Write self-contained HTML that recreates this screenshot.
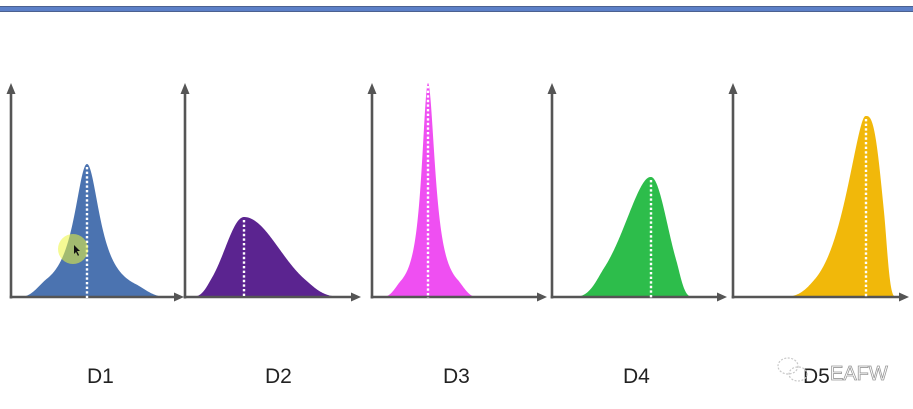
<!DOCTYPE html>
<html><head><meta charset="utf-8">
<style>
html,body{margin:0;padding:0;background:#fff;}
body{width:913px;height:409px;overflow:hidden;position:relative;}
svg{position:absolute;left:0;top:0;}
</style></head>
<body>
<svg id="s" width="913" height="409" viewBox="0 0 913 409" xmlns="http://www.w3.org/2000/svg">
  <rect x="0" y="6" width="913" height="6" fill="#4c6190"/>
  <rect x="0" y="7" width="913" height="4" fill="#5c80c8"/>
  <g id="fills"></g>
  <g id="axes" fill="#555" stroke="#555"></g>
  <g id="dots" stroke="#fff" stroke-width="2.4" stroke-dasharray="2.4 2.2"></g>
  <circle cx="73" cy="249" r="15" fill="rgb(236,245,60)" fill-opacity="0.55"/>
  <polygon points="74,245 74,254 76,252 78,256 79,255 77,251 80,251" fill="#111"/>
  <g font-family="Liberation Sans, sans-serif" font-size="21" fill="#222">
    <text x="87" y="383">D1</text>
    <text x="265" y="383">D2</text>
    <text x="443" y="383">D3</text>
    <text x="623" y="383">D4</text>
    <text x="803" y="383">D5</text>
  </g>
  <g fill="none" stroke="#c8c8c8" stroke-width="1.2" stroke-dasharray="2 1.5">
    <ellipse cx="788" cy="366" rx="10" ry="8"/>
    <ellipse cx="798" cy="374" rx="9" ry="7"/>
  </g>
  <text x="830" y="380" font-family="Liberation Sans, sans-serif" font-size="20" fill="#fff" stroke="#999" stroke-width="0.8">EAFW</text>
</svg>
<script>
(function(){
  var NS="http://www.w3.org/2000/svg";
  function el(parent,name,attrs){var e=document.createElementNS(NS,name);for(var k in attrs)e.setAttribute(k,attrs[k]);parent.appendChild(e);return e;}
  var base=297;
  function cauchy(g){return function(d){return 1/(1+(d/g)*(d/g));};}
  function gen(a,p,r){return function(d){var de=r?Math.sqrt(d*d+r*r)-r:d;return Math.exp(-Math.pow(de/a,p));};}
  function taper(u){if(u<=0.6)return 1;if(u>=1)return 0;return 0.5*(1+Math.cos(Math.PI*(u-0.6)/0.4));}
  var curves=[
    {c:87,H:133,col:"#4b73b0",fl:cauchy(16),el:67,fr:cauchy(16),er:80},
    {c:244,H:80,col:"#5b2490",fl:gen(19*Math.SQRT2,2,0),el:54,fr:gen(35*Math.SQRT2,2,0),er:103},
    {c:428,H:214,col:"#ef4ff2",fl:cauchy(7.8),el:45,fr:cauchy(8.8),er:49},
    {c:651,H:120,col:"#2dbd4b",fl:gen(37,1.7,1.5),el:78,fr:gen(16.4*Math.SQRT2,2,0),er:42},
    {c:866,H:181,col:"#f1b80a",fl:gen(27,1.4,2),el:86,fr:gen(19.9,2.8,0),er:30}
  ];
  var fills=document.getElementById("fills");
  var dots=document.getElementById("dots");
  curves.forEach(function(cv){
    var pts=[];
    var x,d,hh;
    for(d=cv.el;d>0;d-=0.5){hh=cv.fl(d)*taper(d/cv.el);pts.push([(cv.c-d).toFixed(2),(base-hh*cv.H).toFixed(2)]);}
    pts.push([cv.c,base-cv.H]);
    for(d=0.5;d<=cv.er;d+=0.5){hh=cv.fr(d)*taper(d/cv.er);pts.push([(cv.c+d).toFixed(2),(base-hh*cv.H).toFixed(2)]);}
    var p="M"+(cv.c-cv.el)+","+base;
    pts.forEach(function(q){p+=" L"+q[0]+","+q[1];});
    p+=" L"+(cv.c+cv.er)+","+base+" Z";
    el(fills,"path",{d:p,fill:cv.col});
    el(dots,"line",{x1:cv.c,y1:base-cv.H+3,x2:cv.c,y2:base+1});
  });
  var axes=document.getElementById("axes");
  var panels=[[11,184],[185,361],[372,547],[552,727],[733,909]];
  panels.forEach(function(pp){
    var x0=pp[0],xt=pp[1];
    el(axes,"line",{x1:x0,y1:base+1.5,x2:x0,y2:92,"stroke-width":2.6});
    el(axes,"polygon",{points:(x0-4.5)+",94 "+(x0+4.5)+",94 "+x0+",83",stroke:"none"});
    el(axes,"line",{x1:x0-1.3,y1:base,x2:xt-8,y2:base,"stroke-width":2.6});
    el(axes,"polygon",{points:(xt-10)+","+(base-4.5)+" "+(xt-10)+","+(base+4.5)+" "+xt+","+base,stroke:"none"});
  });
})();
</script>
</body></html>
